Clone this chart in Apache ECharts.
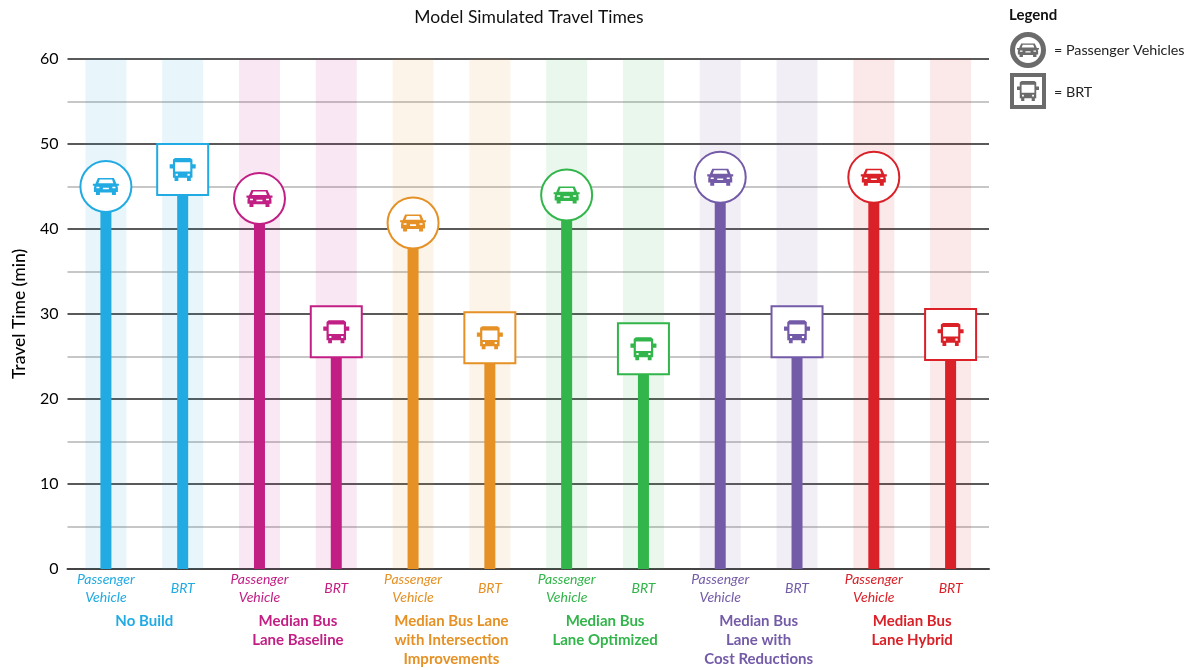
<!DOCTYPE html>
<html>
<head>
<meta charset="utf-8">
<style>html,body{margin:0;padding:0;background:#fff}#c{width:1190px;height:670px}</style>
<script src="https://cdn.jsdelivr.net/npm/echarts@6/dist/echarts.min.js"></script>
</head>
<body>
<div id="c"></div>
<script>
const modeLabels = ['Passenger\nVehicle','BRT','Passenger\nVehicle','BRT','Passenger\nVehicle','BRT','Passenger\nVehicle','BRT','Passenger\nVehicle','BRT','Passenger\nVehicle','BRT'];
const groupLabels = ['No Build','Median Bus\nLane Baseline','Median Bus Lane\nwith Intersection\nImprovements','Median Bus\nLane Optimized','Median Bus\nLane with\nCost Reductions','Median Bus\nLane Hybrid'];
const groupColors = ['#21ABE2','#C21F85','#E59125','#32B54A','#745BA8','#DA2128'];
const travelTimes = [45,47,43.6,27.9,40.7,27.2,44,25.9,46.1,27.9,46.1,27.6];
const bandTop = [60,60,60,60,60,60,60,60,60,60,60,60];
const yTicks = {min:0,max:60,step:10};
const chartTitle = 'Model Simulated Travel Times';
const yTitle = 'Travel Time (min)';

const carPath = 'M5 0.5L21 0.5L23.5 6L26 6L26 8L24.5 8L25 10L25 14L23 14L23 17L19 17L19 14.5L7 14.5L7 17L3 17L3 14L1 14L1 10L1.5 8L0 8L0 6L2.5 6ZM6.8 2L5.5 5.5L20.5 5.5L19.2 2ZM3.5 9L3.5 10.5L6.5 10.5L6.5 9ZM10 10L10 11.5L16 11.5L16 10ZM19.5 9L19.5 10.5L22.5 10.5L22.5 9Z';
const busPath = 'M5 0L19 0L21 1.5L21 6L24 6L24 10L21 10L21 19L19.5 19L19.5 22L16 22L16 19L8 19L8 22L4.5 22L4.5 19L3 19L3 10L0 10L0 6L3 6L3 1.5ZM5 4L5 13L19 13L19 4ZM5.5 15L5.5 17L7.5 17L7.5 15ZM16.5 15L16.5 17L18.5 17L18.5 15Z';
echarts.graphic.registerShape('carIcon', echarts.graphic.extendPath(carPath, {}));
echarts.graphic.registerShape('busIcon', echarts.graphic.extendPath(busPath, {}));

const colorOf = i => groupColors[Math.floor(i / 2)];
const isBus = i => i % 2 === 1;
const hexA = (hex, a) => 'rgba(' + [1,3,5].map(p => parseInt(hex.substr(p,2),16)).join(',') + ',' + a + ')';
const rich = {};
groupColors.forEach((c, i) => {
  rich['m' + i] = {color:c, fontFamily:'Lato', fontStyle:'italic', fontWeight:400, fontSize:14, lineHeight:18};
  rich['g' + i] = {color:c, fontFamily:'Lato', fontWeight:700, fontSize:15, lineHeight:19};
});
const wrap = (text, key) => text.split('\n').map(t => '{' + key + '|' + t + '}').join('\n');

const chart = echarts.init(document.getElementById('c'), null, {renderer:'canvas'});
chart.setOption({
  animation:false,
  backgroundColor:'#fff',
  title:{text:chartTitle,left:524,top:3,textAlign:'center',textVerticalAlign:'top',textStyle:{fontFamily:'Lato',fontWeight:400,fontSize:17.5,color:'#111',align:'center'}},
  grid:{left:67.5,right:201,top:59,bottom:101,containLabel:false},
  xAxis:[
    {type:'category',data:modeLabels,position:'bottom',
     axisLine:{onZero:false,lineStyle:{color:'#444',width:2}},axisTick:{show:false},
     axisLabel:{interval:0,margin:19,verticalAlign:'middle',align:'center',rich,
       formatter:(v,i)=>wrap(v,'m'+Math.floor(i/2))}},
    {type:'category',data:groupLabels,position:'bottom',
     axisLine:{show:false},axisTick:{show:false},
     axisLabel:{interval:0,margin:43,verticalAlign:'top',align:'center',rich,
       formatter:(v,i)=>wrap(v,'g'+i)}},
    {type:'category',data:modeLabels,position:'bottom',show:false}
  ],
  yAxis:{type:'value',min:yTicks.min,max:yTicks.max,interval:yTicks.step,name:yTitle,nameLocation:'middle',nameGap:39,
    nameTextStyle:{fontFamily:'Lato',fontSize:17.5,fontWeight:500,color:'#000'},
    axisLine:{show:false},axisTick:{show:false},
    axisLabel:{fontFamily:'Lato',fontSize:16,color:'#000',margin:9},
    splitLine:{show:true,lineStyle:{color:'#222',width:1.5}},
    minorTick:{show:false,splitNumber:2},
    minorSplitLine:{show:true,lineStyle:{color:'#b5b5b5',width:1.5}}
  },
  series:[
    {name:'Band',type:'bar',xAxisIndex:2,barWidth:41,z:1,silent:true,
     data:bandTop.map((v,i)=>({value:v,itemStyle:{color:hexA(colorOf(i),0.1)}}))},
    {name:'Stem',type:'bar',xAxisIndex:0,barWidth:11,z:2,silent:true,
     data:travelTimes.map((v,i)=>({value:v,itemStyle:{color:colorOf(i)}}))},
    {name:'Marker',type:'scatter',xAxisIndex:0,z:3,silent:true,
     data:travelTimes.map((v,i)=>({value:[i,v],symbol:isBus(i)?'rect':'circle',symbolSize:51,
       itemStyle:{color:'#fff',borderColor:colorOf(i),borderWidth:2,opacity:1}}))},
    {name:'Icon',type:'scatter',xAxisIndex:0,z:4,silent:true,
     data:travelTimes.map((v,i)=>({value:[i,v],symbol:'path://'+(isBus(i)?busPath:carPath),symbolSize:isBus(i)?[26,23]:[26,17],
       itemStyle:{color:colorOf(i),opacity:1}}))}
  ],
  graphic:[
    {type:'text',x:1009,y:8,style:{text:'Legend',fontFamily:'Lato',fontWeight:700,fontSize:15,fill:'#111'}},
    {type:'circle',shape:{cx:1028,cy:50,r:15.5},style:{fill:'#fff',stroke:'#6b6b6b',lineWidth:5}},
    {type:'carIcon',x:1017,y:43,scaleX:22/26,scaleY:14/17,style:{fill:'#6b6b6b'}},
    {type:'text',x:1054,y:43,style:{text:'= Passenger Vehicles',fontFamily:'Lato',fontSize:14.3,fill:'#222'}},
    {type:'rect',shape:{x:1012,y:75,width:32,height:32},style:{fill:'#fff',stroke:'#6b6b6b',lineWidth:4}},
    {type:'busIcon',x:1017,y:81,scaleX:22/24,scaleY:20/22,style:{fill:'#6b6b6b'}},
    {type:'text',x:1054,y:85,style:{text:'= BRT',fontFamily:'Lato',fontSize:14.3,fill:'#222'}}
  ]
});
</script>
</body>
</html>
